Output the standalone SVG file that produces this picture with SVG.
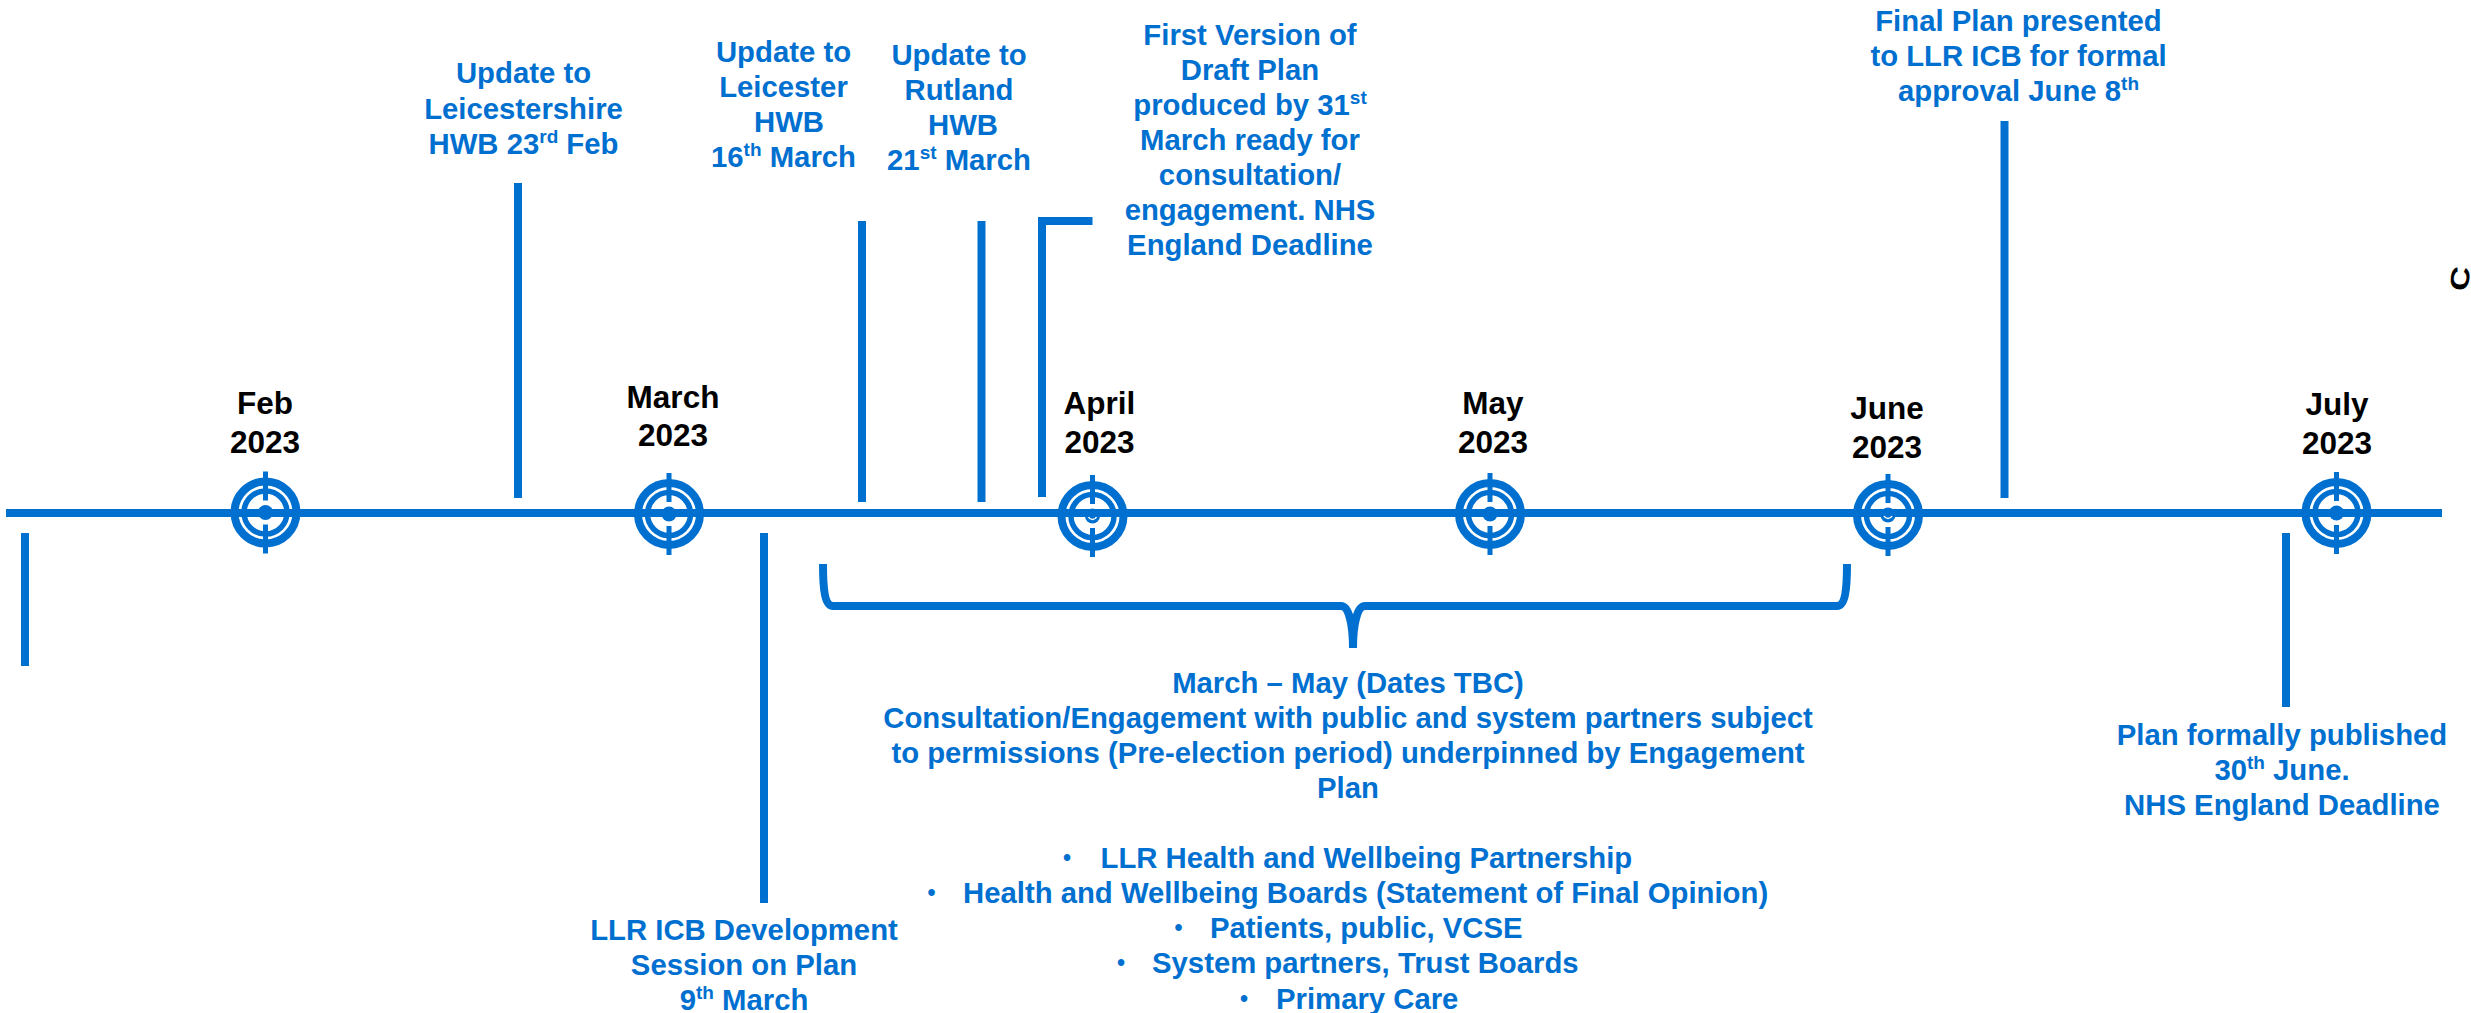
<svg xmlns="http://www.w3.org/2000/svg" width="2471" height="1013" viewBox="0 0 2471 1013">
<style>
text{font-family:"Liberation Sans",Arial,sans-serif;font-weight:700;text-anchor:middle}
.b{fill:#0070d0;font-size:29.3px}
.m{fill:#000;font-size:31.5px}
.s{font-size:19px}
.l{text-anchor:start}
.d{font-size:23px}
.c{fill:none;stroke:#0070d0;stroke-width:8}
.r1{fill:none;stroke:#0070d0;stroke-width:8}
.r2{fill:none;stroke:#0070d0;stroke-width:5.500}
.t{stroke:#0070d0;stroke-width:5}
.a{fill:none;stroke:#fff;stroke-width:1.500}
</style>
<defs>
<g id="target">
<circle class="r1" r="31"/>
<circle class="r2" r="21.500"/>
<circle r="7.500" fill="#0070d0"/>
<path class="t" d="M0 -41V-12M0 12V41"/>
</g>
</defs>
<rect width="2471" height="1013" fill="#fff"/>
<g id="connectors">
<path class="c" d="M6 513H2442"/>
<path class="c" d="M25 533V666"/>
<path class="c" d="M518 183V498"/>
<path class="c" d="M764 533V903"/>
<path class="c" d="M862 221V502"/>
<path class="c" d="M981.500 221V502"/>
<path class="c" d="M1042 497V221H1092.500"/>
<path class="c" d="M2004.500 121V498"/>
<path class="c" d="M2286 533V707"/>
<path class="c" d="M823 564C823 590 825 606 833 606H1341C1349 606 1353 625 1353 648C1353 625 1357 606 1365 606H1837C1845 606 1847 590 1847 564"/>
</g>
<g id="feb"><use href="#target" x="265.500" y="512.500"/><text class="m" x="265" y="414">Feb</text><text class="m" x="265" y="453">2023</text></g>
<g id="march"><use href="#target" x="669" y="514"/><text class="m" x="673" y="408">March</text><text class="m" x="673" y="446">2023</text></g>
<g id="april"><use href="#target" x="1092.500" y="516"/><path class="a" d="M1088.500 517A4.500 4.500 0 0 0 1096.500 517"/><text class="m" x="1099.500" y="414">April</text><text class="m" x="1099.500" y="453">2023</text></g>
<g id="may"><use href="#target" x="1490" y="514"/><text class="m" x="1493" y="414">May</text><text class="m" x="1493" y="453">2023</text></g>
<g id="june"><use href="#target" x="1888" y="515"/><path class="a" d="M1884 516A4.500 4.500 0 0 0 1892 516"/><text class="m" x="1887" y="419">June</text><text class="m" x="1887" y="458">2023</text></g>
<g id="july"><use href="#target" x="2336.500" y="513"/><text class="m" x="2337" y="415">July</text><text class="m" x="2337" y="454">2023</text></g>
<g id="n-leicestershire"><text class="b" x="523.500" y="83">Update to</text><text class="b" x="523.500" y="119">Leicestershire</text><text class="b" x="523.500" y="154">HWB 23<tspan class="s" dy="-11">rd</tspan><tspan dy="11"> Feb</tspan></text></g>
<g id="n-leicester"><text class="b" x="783.500" y="62">Update to</text><text class="b" x="783.500" y="97">Leicester</text><text class="b" x="789" y="132">HWB</text><text class="b" x="783.500" y="167">16<tspan class="s" dy="-11">th</tspan><tspan dy="11"> March</tspan></text></g>
<g id="n-rutland"><text class="b" x="959" y="65">Update to</text><text class="b" x="959" y="100">Rutland</text><text class="b" x="963" y="135">HWB</text><text class="b" x="959" y="170">21<tspan class="s" dy="-11">st</tspan><tspan dy="11"> March</tspan></text></g>
<g id="n-first"><text class="b" x="1250" y="45">First Version of</text><text class="b" x="1250" y="80">Draft Plan</text><text class="b" x="1250" y="115">produced by 31<tspan class="s" dy="-11">st</tspan></text><text class="b" x="1250" y="150">March ready for</text><text class="b" x="1250" y="185">consultation/</text><text class="b" x="1250" y="220">engagement. NHS</text><text class="b" x="1250" y="255">England Deadline</text></g>
<g id="n-final"><text class="b" x="2018.500" y="31">Final Plan presented</text><text class="b" x="2018.500" y="66">to LLR ICB for formal</text><text class="b" x="2018.500" y="101">approval June 8<tspan class="s" dy="-11">th</tspan></text></g>
<g id="n-published"><text class="b" x="2282" y="745">Plan formally published</text><text class="b" x="2282" y="780">30<tspan class="s" dy="-11">th</tspan><tspan dy="11"> June.</tspan></text><text class="b" x="2282" y="815">NHS England Deadline</text></g>
<g id="n-session"><text class="b" x="744" y="940">LLR ICB Development</text><text class="b" x="744" y="975">Session on Plan</text><text class="b" x="744" y="1010">9<tspan class="s" dy="-11">th</tspan><tspan dy="11"> March</tspan></text></g>
<g id="n-consultation"><text class="b" x="1348" y="693">March – May (Dates TBC)</text><text class="b" x="1348" y="727.500">Consultation/Engagement with public and system partners subject</text><text class="b" x="1348" y="763">to permissions (Pre-election period) underpinned by Engagement</text><text class="b" x="1348" y="798">Plan</text>
<text class="b d" x="1067" y="866">•</text><text class="b l" x="1100.500" y="868">LLR Health and Wellbeing Partnership</text>
<text class="b d" x="931.500" y="901">•</text><text class="b l" x="963" y="903">Health and Wellbeing Boards (Statement of Final Opinion)</text>
<text class="b d" x="1178.500" y="936">•</text><text class="b l" x="1210" y="938">Patients, public, VCSE</text>
<text class="b d" x="1121" y="971">•</text><text class="b l" x="1152" y="973">System partners, Trust Boards</text>
<text class="b d" x="1244" y="1006.500">•</text><text class="b l" x="1276" y="1008.500">Primary Care</text></g>
<g id="n-c"><text transform="translate(2469 280) rotate(-82) scale(1.350 1.050)" style="font-size:25px;fill:#000">C</text></g>
</svg>
